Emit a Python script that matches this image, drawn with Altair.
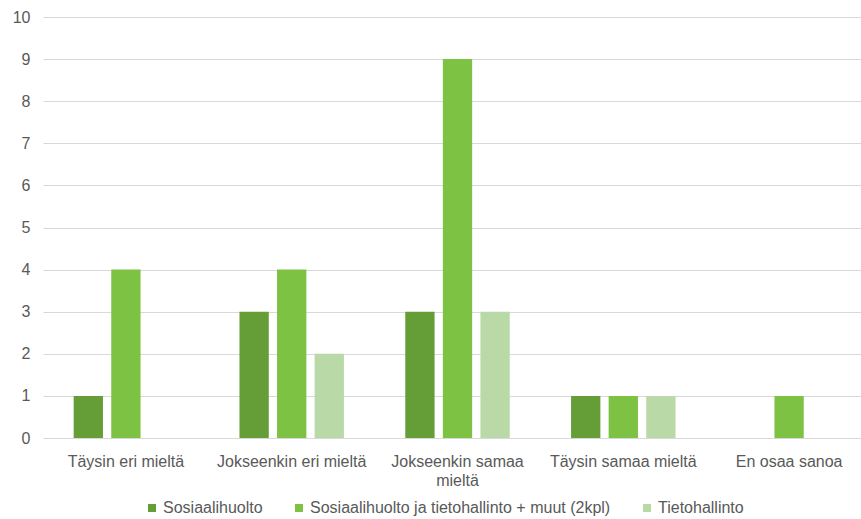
import altair as alt
import pandas as pd

categories = [
    "Täysin eri mieltä",
    "Jokseenkin eri mieltä",
    "Jokseenkin samaa mieltä",
    "Täysin samaa mieltä",
    "En osaa sanoa",
]
series_names = [
    "Sosiaalihuolto",
    "Sosiaalihuolto ja tietohallinto + muut (2kpl)",
    "Tietohallinto",
]
sosiaalihuolto = [1, 3, 3, 1, 0]
sosiaali_tieto_muut = [4, 4, 9, 1, 1]
tietohallinto = [0, 2, 3, 1, 0]
colors = ["#659E37", "#7DC242", "#B9D9A7"]

rows = []
for name, values in zip(series_names, [sosiaalihuolto, sosiaali_tieto_muut, tietohallinto]):
    for cat, v in zip(categories, values):
        rows.append({"kategoria": cat, "sarja": name, "arvo": v})
df = pd.DataFrame(rows)

font = "Liberation Sans"
grey = "#595959"
fsize = 16

chart = (
    alt.Chart(df)
    .mark_bar()
    .encode(
        x=alt.X(
            "kategoria:N",
            sort=categories,
            # category bands run a little past the right edge of the grid
            scale=alt.Scale(paddingInner=0.37, paddingOuter=0.185, range=[0, 829]),
            axis=alt.Axis(
                title=None,
                labelAngle=0,
                labelFont=font,
                labelFontSize=fsize,
                labelColor=grey,
                labelPadding=15,
                labelLimit=220,
                labelLineHeight=19,
                ticks=False,
                domain=False,
                labelExpr="datum.label == 'Jokseenkin samaa mieltä' ? ['Jokseenkin samaa', 'mieltä'] : datum.label",
            ),
        ),
        xOffset=alt.XOffset(
            "sarja:N",
            sort=series_names,
            scale=alt.Scale(paddingInner=0.22, paddingOuter=0),
        ),
        y=alt.Y(
            "arvo:Q",
            scale=alt.Scale(domain=[0, 10]),
            axis=alt.Axis(
                title=None,
                values=list(range(0, 11)),
                labelOverlap=False,
                labelFont=font,
                labelFontSize=fsize,
                labelColor=grey,
                labelPadding=13,
                ticks=False,
                domain=False,
                gridColor="#D9D9D9",
                gridWidth=1,
            ),
        ),
        color=alt.Color(
            "sarja:N",
            sort=series_names,
            scale=alt.Scale(domain=series_names, range=colors),
            legend=alt.Legend(
                title=None,
                orient="none",
                direction="horizontal",
                legendX=101,
                legendY=483,
                symbolType="square",
                symbolSize=64,
                symbolStrokeWidth=0,
                labelFont=font,
                labelFontSize=fsize,
                labelColor=grey,
                labelOffset=3,
                columnPadding=28,
                labelLimit=400,
            ),
        ),
    )
    .properties(
        width=818,
        height=421,
        autosize=alt.AutoSizeParams(type="none"),
        padding={"left": 43, "top": 17, "right": 0, "bottom": 81},
        background="white",
    )
    .configure_view(stroke=None)
)

chart.save("out.html", embed_options={"renderer": "svg", "actions": False})
